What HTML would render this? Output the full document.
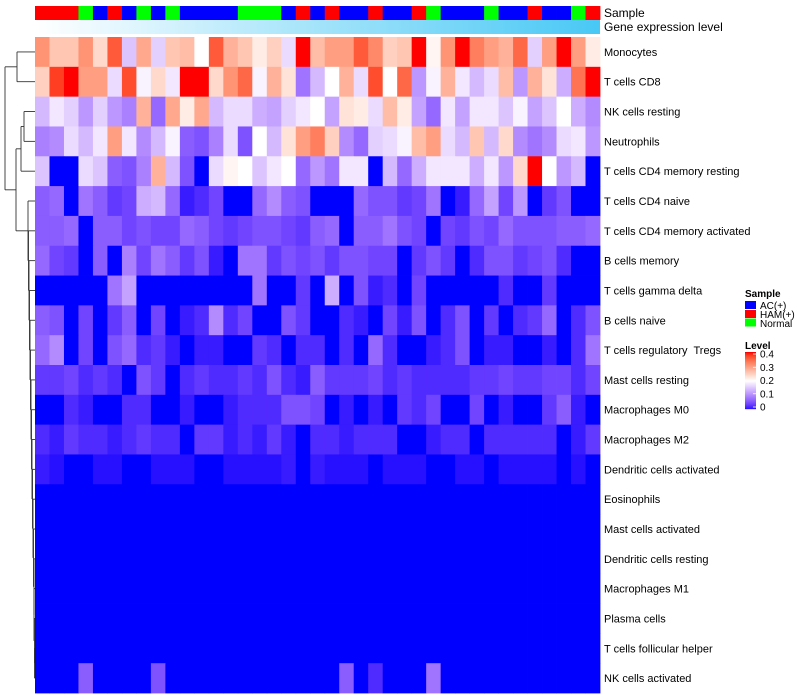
<!DOCTYPE html>
<html><head><meta charset="utf-8"><style>
html,body{margin:0;padding:0;background:#fff;}
svg{display:block;font-family:"Liberation Sans",Arial,sans-serif;}
#rowlabels text{white-space:pre;}
</style></head><body>
<svg id="chart" width="800" height="700" xmlns="http://www.w3.org/2000/svg">
<defs>
<linearGradient id="geneGrad" x1="0" x2="1" y1="0" y2="0"><stop offset="0" stop-color="#ffffff"/><stop offset="1" stop-color="#48c8f5"/></linearGradient>
</defs>
<g id="dendro"></g>
<g id="cells"></g>
<g id="samplebar"></g>
<rect x="35" y="20" width="565" height="14" fill="url(#geneGrad)"/>
<text x="604" y="17" font-size="12">Sample</text>
<text x="604" y="31" font-size="12">Gene expression level</text>
<g id="rowlabels"></g>
<g>
<text x="745" y="297" font-size="10" font-weight="bold">Sample</text>
<rect x="745" y="301" width="11" height="8" fill="#0000ff"/>
<text x="760" y="309" font-size="10">AC(+)</text>
<rect x="745" y="310" width="11" height="8" fill="#ff0000"/>
<text x="760" y="318" font-size="10">HAM(+)</text>
<rect x="745" y="318.5" width="11" height="8" fill="#00ff00"/>
<text x="760" y="327" font-size="10">Normal</text>
</g>
<g id="levellegend">
<text x="745" y="349" font-size="10" font-weight="bold">Level</text>
</g>
</svg>
<script>
const rowLabels = ["Monocytes","T cells CD8","NK cells resting","Neutrophils","T cells CD4 memory resting","T cells CD4 naive","T cells CD4 memory activated","B cells memory","T cells gamma delta","B cells naive","T cells regulatory  Tregs","Mast cells resting","Macrophages M0","Macrophages M2","Dendritic cells activated","Eosinophils","Mast cells activated","Dendritic cells resting","Macrophages M1","Plasma cells","T cells follicular helper","NK cells activated"];
const sampleGroups = ["HAM(+)","HAM(+)","HAM(+)","Normal","AC(+)","HAM(+)","AC(+)","Normal","AC(+)","Normal","AC(+)","AC(+)","AC(+)","AC(+)","Normal","Normal","Normal","AC(+)","HAM(+)","AC(+)","HAM(+)","AC(+)","AC(+)","HAM(+)","AC(+)","AC(+)","HAM(+)","Normal","AC(+)","AC(+)","AC(+)","Normal","AC(+)","AC(+)","HAM(+)","AC(+)","AC(+)","Normal","HAM(+)"];
const levelTicks = [0, 0.1, 0.2, 0.3, 0.4];
const z = [0,0,0,0,0,0,0,0,0,0,0,0,0,0,0,0,0,0,0,0,0,0,0,0,0,0,0,0,0,0,0,0,0,0,0,0,0,0,0];
const values = [
[.31,.26,.26,.31,.24,.36,.15,.29,.16,.26,.27,.2,.36,.28,.26,.22,.25,.17,.4,.27,.3,.3,.36,.32,.25,.26,.4,.21,.31,.4,.33,.3,.28,.35,.16,.3,.4,.3,.22],
[.25,.38,.4,.3,.3,.17,.37,.19,.24,.18,.4,.4,.24,.31,.35,.19,.28,.23,.08,.14,.2,.28,.17,.37,.2,.35,.11,.19,.28,.18,.14,.17,.27,.11,.28,.23,.13,.34,.4],
[.14,.18,.16,.11,.16,.11,.09,.28,.07,.29,.22,.29,.14,.17,.17,.13,.12,.16,.18,.2,.12,.23,.22,.17,.27,.22,.12,.07,.18,.12,.18,.18,.15,.19,.12,.15,.2,.13,.1],
[.09,.1,.17,.14,.18,.3,.18,.1,.14,.19,.06,.05,.09,.17,.05,.2,.14,.23,.3,.33,.25,.1,.07,.16,.17,.19,.27,.3,.17,.14,.26,.14,.24,.1,.08,.1,.17,.18,.11],
[.15,0,0,.17,.15,.06,.05,.09,.28,.14,.05,0,.17,.21,.2,.15,.18,.2,.07,.11,.08,.18,.18,0,.14,.07,.13,.18,.18,.18,.13,.18,.11,.24,.4,.2,.11,.14,0],
[.06,.07,0,.08,.06,.03,.04,.13,.14,.07,.01,.02,.04,0,0,.07,.1,.06,.05,0,0,0,.07,.05,.05,.03,.04,.08,0,.01,.07,.12,.04,.11,0,.03,.05,0,0],
[.06,.06,.07,0,.06,.06,.04,.05,.04,.04,.07,.06,.04,.03,.04,.05,.05,.04,.03,.06,.07,0,.06,.06,.08,.05,.04,0,.04,.03,.05,.04,.07,.05,.05,.05,.06,.06,.07],
[.07,.04,.03,0,.06,0,.09,.04,.08,.06,.03,.05,.01,0,.08,.08,.03,.05,.04,.05,.03,.05,.05,.04,.04,0,.03,.05,.03,0,.02,.05,.05,.03,.04,.05,.02,0,0],
[0,0,0,0,0,.08,.12,0,0,0,0,0,0,0,0,.08,0,0,.03,0,.13,0,.05,.01,.02,0,.04,0,0,0,0,0,.02,0,0,.03,0,0,0],
[.06,.05,0,.04,0,.03,.06,0,.04,0,.01,.02,.1,.02,.04,0,0,.05,.03,0,0,.02,.01,0,.04,.01,.05,0,.02,.05,0,.03,0,.02,.03,.07,0,.02,.05],
[.07,.1,0,.04,0,.05,.07,.02,.03,.01,0,.01,.01,0,0,.03,.02,0,.02,.02,0,.02,0,.07,.02,0,0,.01,.02,.05,0,.01,.01,0,0,.01,0,.02,.08],
[.03,.03,.04,.02,.03,.02,0,.05,.03,0,.02,.03,.02,.02,.03,.02,.05,.02,.01,.06,.03,.03,.03,.04,.02,.03,.02,.02,.02,.02,.03,.03,.04,.03,.03,.04,.04,.02,.04],
[0,0,.02,.01,0,0,.02,.02,0,0,.01,0,0,.01,.02,.02,.02,.05,.05,.04,0,.01,0,.01,0,.03,.02,.04,0,0,.04,0,.01,0,0,.03,.06,.01,0],
[.02,.01,.03,.02,.02,.01,.02,.03,.02,.02,0,.03,.03,.01,.02,.01,.03,.01,0,.02,.02,.01,.02,.02,.02,0,0,.01,.02,.02,0,.02,.02,.02,.02,.02,0,.01,.03],
[.01,.005,0,0,.005,.005,0,0,.005,.005,.005,0,0,.005,.005,.005,.005,.01,0,.01,.005,.005,.005,0,.005,.005,.005,0,0,.005,.005,0,.005,.005,.005,.005,0,.005,0],
z.slice(), z.slice(), z.slice(), z.slice(), z.slice(), z.slice(),
[0,0,0,.06,0,0,0,0,.05,0,0,0,0,0,0,0,0,0,0,0,0,.06,0,.02,0,0,0,.08,0,0,0,0,0,0,0,0,0,0,0]
];

const NS = "http://www.w3.org/2000/svg";
const X0 = 35, X1 = 600, Y0 = 37, Y1 = 693;
const nCol = sampleGroups.length, nRow = rowLabels.length;
const cw = (X1 - X0) / nCol, rh = (Y1 - Y0) / nRow;
function xPos(j){ return X0 + j * cw; }
function yPos(i){ return Y0 + i * rh; }
const groupColor = {"AC(+)":"#0000ff","HAM(+)":"#ff0000","Normal":"#00ff00"};

function s2l(c){ c/=255; return c<=0.04045?c/12.92:Math.pow((c+0.055)/1.055,2.4); }
function l2s(c){ c = c<=0.0031308?12.92*c:1.055*Math.pow(c,1/2.4)-0.055; return Math.max(0,Math.min(255,Math.round(c*255))); }
function toLab(r,g,b){
  r=s2l(r);g=s2l(g);b=s2l(b);
  let X=(r*0.4124+g*0.3576+b*0.1805)/0.95047, Y=r*0.2126+g*0.7152+b*0.0722, Z=(r*0.0193+g*0.1192+b*0.9505)/1.08883;
  const f=t=>t>0.008856?Math.cbrt(t):7.787*t+16/116;
  X=f(X);Y=f(Y);Z=f(Z);
  return [116*Y-16,500*(X-Y),200*(Y-Z)];
}
function fromLab(L,a,bb){
  let Y=(L+16)/116, X=a/500+Y, Z=Y-bb/200;
  const fi=t=>t*t*t>0.008856?t*t*t:(t-16/116)/7.787;
  X=fi(X)*0.95047;Y=fi(Y);Z=fi(Z)*1.08883;
  const r=X*3.2406+Y*-1.5372+Z*-0.4986, g=X*-0.9689+Y*1.8758+Z*0.0415, b=X*0.0557+Y*-0.2040+Z*1.0570;
  return "rgb("+l2s(r)+","+l2s(g)+","+l2s(b)+")";
}
const labBlue = toLab(0,0,255), labWhite = toLab(255,255,255), labRed = toLab(255,0,0);
function colorOf(v){
  v = Math.max(0, Math.min(0.4, v));
  let a, b, t;
  if (v <= 0.2){ a = labBlue; b = labWhite; t = v/0.2; } else { a = labWhite; b = labRed; t = (v-0.2)/0.2; }
  return fromLab(a[0]+(b[0]-a[0])*t, a[1]+(b[1]-a[1])*t, a[2]+(b[2]-a[2])*t);
}

const cells = document.getElementById("cells");
for (let i = 0; i < nRow; i++){
  for (let j = 0; j < nCol; j++){
    const r = document.createElementNS(NS, "rect");
    r.setAttribute("x", xPos(j)); r.setAttribute("y", yPos(i));
    r.setAttribute("width", cw + 0.4); r.setAttribute("height", rh + 0.4);
    r.setAttribute("fill", colorOf(values[i][j]));
    
    
    cells.appendChild(r);
  }
}
const sb = document.getElementById("samplebar");
for (let j = 0; j < nCol; j++){
  const r = document.createElementNS(NS, "rect");
  r.setAttribute("x", xPos(j)); r.setAttribute("y", 6);
  r.setAttribute("width", cw + 0.4); r.setAttribute("height", 14);
  r.setAttribute("fill", groupColor[sampleGroups[j]]);
  
  
  sb.appendChild(r);
}
const rl = document.getElementById("rowlabels");
for (let i = 0; i < nRow; i++){
  const t = document.createElementNS(NS, "text");
  t.setAttribute("x", 604); t.setAttribute("y", yPos(i) + rh/2 + 4);
  t.setAttribute("font-size", "11");
  t.textContent = rowLabels[i];
  
  
  rl.appendChild(t);
}
const ll = document.getElementById("levellegend");
const LB0 = 352, LB1 = 409;
for (let k = 0; k < 57; k++){
  const v = 0.4 - 0.4 * k / 57;
  const r = document.createElementNS(NS, "rect");
  r.setAttribute("x", 745); r.setAttribute("y", LB0 + k);
  r.setAttribute("width", 11); r.setAttribute("height", 1.2);
  r.setAttribute("fill", colorOf(v));
  
  
  ll.appendChild(r);
}
levelTicks.forEach(v => {
  const y = LB1 - (v/0.4) * (LB1 - LB0 - 4) - 2;
  const t = document.createElementNS(NS, "text");
  t.setAttribute("x", 760); t.setAttribute("y", y + 3.5);
  t.setAttribute("font-size", "10");
  t.textContent = String(v);
  
  
  ll.appendChild(t);
  const l = document.createElementNS(NS, "line");
  l.setAttribute("x1", 753); l.setAttribute("x2", 756); l.setAttribute("y1", y); l.setAttribute("y2", y);
  l.setAttribute("stroke", "#fff"); l.setAttribute("stroke-width", "0.8");
  
  
  ll.appendChild(l);
});
const dg = document.getElementById("dendro");
function yc(i){ return yPos(i) + rh/2; }
function seg(x1,y1,x2,y2){
  const l = document.createElementNS(NS, "line");
  l.setAttribute("x1", x1); l.setAttribute("y1", y1); l.setAttribute("x2", x2); l.setAttribute("y2", y2);
  l.setAttribute("stroke", "#333"); l.setAttribute("stroke-width", "0.9");
  
  
  dg.appendChild(l);
}
function join(xa, ya, xb, yb, x){ seg(xa, ya, x, ya); seg(xb, yb, x, yb); seg(x, ya, x, yb); return [x, (ya+yb)/2]; }
const A = join(X0, yc(0), X0, yc(1), 17);
const B1 = join(X0, yc(2), X0, yc(3), 24);
const B = join(B1[0], B1[1], X0, yc(4), 21);
let node = [X0, yc(21)];
const lowX = [34.5,34.5,34,34,33.5,33,32.5,32,31.5,31,30.5,30,29.5,29,28.5,28];
for (let i = 20, k = 0; i >= 5; i--, k++){
  node = join(X0, yc(i), node[0], node[1], lowX[k]);
}
const BC = join(B[0], B[1], node[0], node[1], 16);
join(A[0], A[1], BC[0], BC[1], 5);
</script>
</body></html>
